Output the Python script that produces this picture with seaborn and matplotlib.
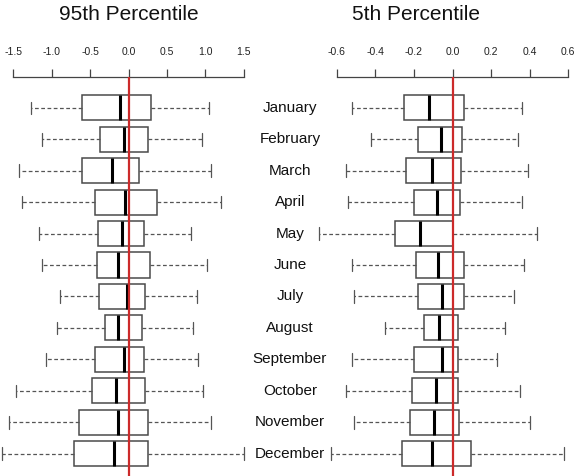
import numpy as np
import pandas as pd
import matplotlib
matplotlib.use("Agg")
import matplotlib.pyplot as plt
import matplotlib.transforms as mtransforms
import seaborn as sns

# meses (ordem de cima para baixo)
months = ["January", "February", "March", "April", "May", "June", "July",
          "August", "September", "October", "November", "December"]

# 95th percentile: whisker low, Q1, median, Q3, whisker high
p95_lo = [-1.27, -1.12, -1.43, -1.39, -1.17, -1.13, -0.89, -0.93, -1.07, -1.47, -1.56, -1.65]
p95_q1 = [-0.60, -0.37, -0.61, -0.43, -0.40, -0.41, -0.38, -0.30, -0.44, -0.47, -0.65, -0.71]
p95_med = [-0.11, -0.06, -0.22, -0.04, -0.09, -0.14, -0.02, -0.14, -0.06, -0.16, -0.14, -0.19]
p95_q3 = [0.29, 0.25, 0.14, 0.37, 0.20, 0.28, 0.21, 0.17, 0.20, 0.22, 0.25, 0.26]
p95_hi = [1.05, 0.96, 1.07, 1.20, 0.81, 1.02, 0.89, 0.84, 0.91, 0.97, 1.08, 1.50]

# 5th percentile
p5_lo = [-0.52, -0.42, -0.55, -0.54, -0.69, -0.52, -0.51, -0.35, -0.52, -0.55, -0.51, -0.63]
p5_q1 = [-0.25, -0.18, -0.24, -0.20, -0.30, -0.19, -0.18, -0.15, -0.20, -0.21, -0.22, -0.26]
p5_med = [-0.12, -0.06, -0.105, -0.08, -0.17, -0.075, -0.055, -0.07, -0.056, -0.087, -0.097, -0.106]
p5_q3 = [0.06, 0.048, 0.042, 0.04, 0.0, 0.061, 0.061, 0.028, 0.03, 0.03, 0.035, 0.096]
p5_hi = [0.36, 0.34, 0.39, 0.36, 0.44, 0.37, 0.32, 0.27, 0.23, 0.35, 0.40, 0.58]

ticks_95 = [-1.5, -1.0, -0.5, 0.0, 0.5, 1.0, 1.5]
ticks_5 = [-0.6, -0.4, -0.2, 0.0, 0.2, 0.4, 0.6]


def long_df(lo, q1, med, q3, hi):
    # 5 valores por mês -> quartis e extremos exatamente nos valores lidos
    rows = []
    for i, m in enumerate(months):
        for v in (lo[i], q1[i], med[i], q3[i], hi[i]):
            rows.append({"month": m, "value": v})
    return pd.DataFrame(rows)


df95 = long_df(p95_lo, p95_q1, p95_med, p95_q3, p95_hi)
df5 = long_df(p5_lo, p5_q1, p5_med, p5_q3, p5_hi)

sns.set_style("white")
plt.rcParams["font.family"] = ["Liberation Sans", "DejaVu Sans"]

W, H = 583, 476
fig = plt.figure(figsize=(W / 100, H / 100), dpi=100)
top_px = 77
ax1 = fig.add_axes([0 / W, 0, 258 / W, (H - top_px) / H])
ax2 = fig.add_axes([310 / W, 0, 273 / W, (H - top_px) / H])

box_kw = dict(
    orient="h", whis=np.inf, width=0.8, color="white", linecolor="#4a4a4a",
    linewidth=1.1, showfliers=False,
    medianprops=dict(color="black", linewidth=2.2),
    whiskerprops=dict(color="#555555", linestyle=(0, (3, 2)), linewidth=0.9),
    capprops=dict(color="#555555", linewidth=0.9),
)

panels = [
    (ax1, df95, ticks_95, (-128.5 / 76.8, (258 - 128.5) / 76.8)),
    (ax2, df5, ticks_5, ((310 - 452.5) / 193, (583 - 452.5) / 193)),
]

for ax, df, ticks, xlim in panels:
    sns.boxplot(data=df, x="value", y="month", order=months, ax=ax, **box_kw)
    ax.set_facecolor("none")
    ax.axvline(0, color="#cc2a2a", linewidth=1.6, zorder=10)
    ax.set_xlim(*xlim)
    ax.set_ylim(11.71, -0.98)
    ax.set_xlabel("")
    ax.set_ylabel("")
    ax.set_yticks([])
    for s in ["left", "right", "bottom"]:
        ax.spines[s].set_visible(False)
    ax.spines["top"].set_visible(True)
    ax.spines["top"].set_bounds(ticks[0], ticks[-1])
    ax.spines["top"].set_color("#444444")
    ax.spines["top"].set_linewidth(0.9)
    ax.xaxis.tick_top()
    ax.set_xticks(ticks)
    ax.set_xticklabels([f"{t:.1f}" for t in ticks])
    ax.tick_params(axis="x", top=True, bottom=False, direction="out", length=5.5,
                   width=0.9, color="#444444", pad=9, labelsize=7.5, labelcolor="#222222")

# nomes dos meses no meio
trans = mtransforms.blended_transform_factory(fig.transFigure, ax1.transData)
for i, m in enumerate(months):
    ax1.text(290 / W, i, m, transform=trans, ha="center", va="center",
             fontsize=11, color="#111111", clip_on=False)

fig.text(129 / W, 1 - 14 / H, "95th Percentile", ha="center", va="center", fontsize=15, color="#111111")
fig.text(416 / W, 1 - 14 / H, "5th Percentile", ha="center", va="center", fontsize=15, color="#111111")

fig.savefig("out.png", dpi=100)
